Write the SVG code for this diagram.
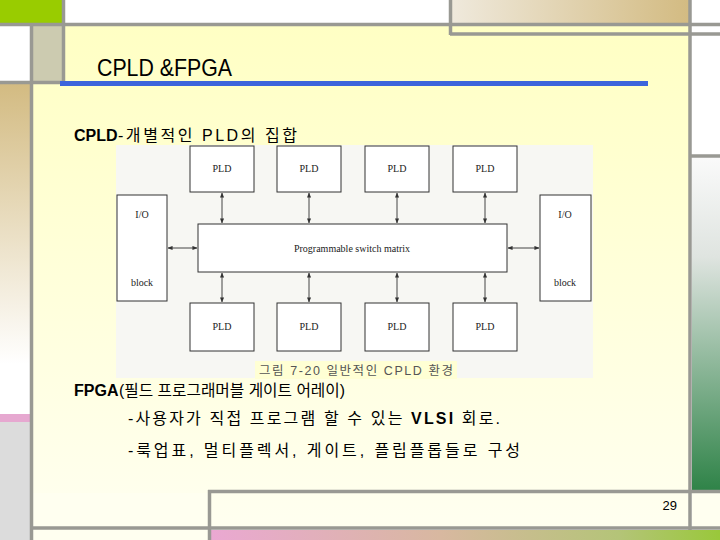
<svg xmlns="http://www.w3.org/2000/svg" width="720" height="540" viewBox="0 0 720 540">
<defs>
<linearGradient id="bgY" x1="0" y1="0" x2="0" y2="1"><stop offset="0" stop-color="#ffffc4"/><stop offset="1" stop-color="#fffff0"/></linearGradient>
<linearGradient id="tanH" x1="0" y1="0" x2="1" y2="0"><stop offset="0" stop-color="#efe9dc"/><stop offset="1" stop-color="#d3bb82"/></linearGradient>
<linearGradient id="tanV" x1="0" y1="0" x2="0" y2="1"><stop offset="0" stop-color="#d3bb82"/><stop offset="0.85" stop-color="#ffffff"/><stop offset="1" stop-color="#ffffff"/></linearGradient>
<linearGradient id="greenV" x1="0" y1="0" x2="0" y2="1"><stop offset="0" stop-color="#fafafa"/><stop offset="0.3" stop-color="#dfe4e0"/><stop offset="1" stop-color="#2f8348"/></linearGradient>
<linearGradient id="barH" x1="0" y1="0" x2="1" y2="0"><stop offset="0" stop-color="#eaa8d2"/><stop offset="0.45" stop-color="#d8b8a0"/><stop offset="0.8" stop-color="#b4c478"/><stop offset="1" stop-color="#99c83a"/></linearGradient>
<marker id="ah" viewBox="0 0 6 6" refX="5.5" refY="3" markerWidth="5" markerHeight="5" orient="auto-start-reverse"><path d="M0,0.5 L6,3 L0,5.5 Z" fill="#333"/></marker>
<style>
.frame{stroke:#999993;stroke-width:3.5;fill:none}
.box{fill:#ffffff;stroke:#333;stroke-width:1}
.dt{font-family:"Liberation Serif",serif;font-size:10px;fill:#222;text-anchor:middle}
.conn{stroke:#444;stroke-width:1;fill:none;marker-start:url(#ah);marker-end:url(#ah)}
.kt{font-family:"Liberation Sans","Noto Sans CJK KR",sans-serif;font-size:16px;fill:#000}
.b{font-weight:bold}
</style>
</defs>
<!-- background / frame -->
<rect x="0" y="0" width="720" height="540" fill="#ffffff"/>
<rect x="31" y="26" width="659" height="502" fill="url(#bgY)"/>
<rect x="0" y="0" width="62" height="23" fill="#99cc00"/>
<rect x="33" y="26" width="29" height="56" fill="#cccbb0"/>
<rect x="0" y="84" width="30" height="330" fill="url(#tanV)"/>
<rect x="0" y="414" width="30" height="8" fill="#e6a8d0"/>
<rect x="0" y="422" width="30" height="118" fill="#dcdcdc"/>
<rect x="452" y="0" width="237" height="23" fill="url(#tanH)"/>
<rect x="692" y="157" width="28" height="333" fill="url(#greenV)"/>
<rect x="692" y="493" width="28" height="35" fill="#fffff0"/>
<rect x="33" y="493" width="176" height="47" fill="#fffff0"/>
<rect x="211" y="530" width="509" height="10" fill="url(#barH)"/>
<g class="frame">
<line x1="0" y1="24.5" x2="720" y2="24.5"/>
<line x1="63.5" y1="0" x2="63.5" y2="84"/>
<line x1="31.5" y1="24" x2="31.5" y2="540"/>
<line x1="0" y1="82.5" x2="62" y2="82.5"/>
<line x1="450.5" y1="0" x2="450.5" y2="35"/>
<line x1="450" y1="34" x2="720" y2="34"/>
<line x1="690" y1="0" x2="690" y2="530"/>
<line x1="690" y1="156" x2="720" y2="156"/>
<line x1="208" y1="491.5" x2="720" y2="491.5"/>
<line x1="209.5" y1="490" x2="209.5" y2="540"/>
<line x1="31" y1="528" x2="720" y2="528"/>
</g>
<!-- title -->
<text x="97" y="76" font-family="Liberation Sans, sans-serif" font-size="24" textLength="135" lengthAdjust="spacingAndGlyphs" fill="#000">CPLD &amp;FPGA</text>
<rect x="60" y="81" width="588" height="5" fill="#3c64dc"/>
<text class="kt b" x="74" y="141">CPLD</text>
<text class="kt" x="118" y="141" textLength="179" lengthAdjust="spacing">-개별적인 PLD의 집합</text>
<!-- picture -->
<rect x="116" y="145" width="477" height="233" fill="#f7f7f3"/>
<rect x="255" y="361" width="202" height="18" fill="#ffffd4"/>
<text x="259" y="375" font-family="Liberation Sans, 'Noto Sans CJK KR', sans-serif" font-size="12.5" fill="#555" textLength="194" lengthAdjust="spacing">그림 7-20 일반적인 CPLD 환경</text>
<g id="connectors">
<line class="conn" x1="222" y1="193" x2="222" y2="223"/>
<line class="conn" x1="309" y1="193" x2="309" y2="223"/>
<line class="conn" x1="397" y1="193" x2="397" y2="223"/>
<line class="conn" x1="485" y1="193" x2="485" y2="223"/>
<line class="conn" x1="222" y1="273" x2="222" y2="302"/>
<line class="conn" x1="309" y1="273" x2="309" y2="302"/>
<line class="conn" x1="397" y1="273" x2="397" y2="302"/>
<line class="conn" x1="485" y1="273" x2="485" y2="302"/>
<line class="conn" x1="168" y1="248" x2="197" y2="248"/>
<line class="conn" x1="508" y1="248" x2="539" y2="248"/>
</g>
<g id="pld-t1"><rect class="box" x="190" y="146" width="64" height="46"/><text class="dt" x="222" y="172">PLD</text></g>
<g id="pld-t2"><rect class="box" x="277" y="146" width="64" height="46"/><text class="dt" x="309" y="172">PLD</text></g>
<g id="pld-t3"><rect class="box" x="365" y="146" width="64" height="46"/><text class="dt" x="397" y="172">PLD</text></g>
<g id="pld-t4"><rect class="box" x="453" y="146" width="64" height="46"/><text class="dt" x="485" y="172">PLD</text></g>
<g id="matrix"><rect class="box" x="198" y="224" width="309" height="48"/><text class="dt" x="352" y="252">Programmable switch matrix</text></g>
<g id="io-left"><rect class="box" x="117" y="195" width="50" height="106"/><text class="dt" x="142" y="218">I/O</text><text class="dt" x="142" y="286">block</text></g>
<g id="io-right"><rect class="box" x="540" y="195" width="51" height="106"/><text class="dt" x="565" y="218">I/O</text><text class="dt" x="565" y="286">block</text></g>
<g id="pld-b1"><rect class="box" x="190" y="303" width="64" height="48"/><text class="dt" x="222" y="330">PLD</text></g>
<g id="pld-b2"><rect class="box" x="277" y="303" width="64" height="48"/><text class="dt" x="309" y="330">PLD</text></g>
<g id="pld-b3"><rect class="box" x="365" y="303" width="64" height="48"/><text class="dt" x="397" y="330">PLD</text></g>
<g id="pld-b4"><rect class="box" x="453" y="303" width="64" height="48"/><text class="dt" x="485" y="330">PLD</text></g>
<!-- body text -->
<text class="kt b" x="74" y="396">FPGA</text>
<text class="kt" x="119" y="396" font-size="15" textLength="226" lengthAdjust="spacingAndGlyphs">(필드 프로그래머블 게이트 어레이)</text>
<text class="kt" x="128" y="424" textLength="372" lengthAdjust="spacing">-사용자가 직접 프로그램 할 수 있는 <tspan class="b">VLSI</tspan>  회로.</text>
<text class="kt" x="128" y="456" textLength="392" lengthAdjust="spacing">-룩업표, 멀티플렉서, 게이트, 플립플롭들로 구성</text>
<text x="677" y="510" font-family="Liberation Sans, sans-serif" font-size="13" fill="#000" text-anchor="end">29</text>
</svg>
